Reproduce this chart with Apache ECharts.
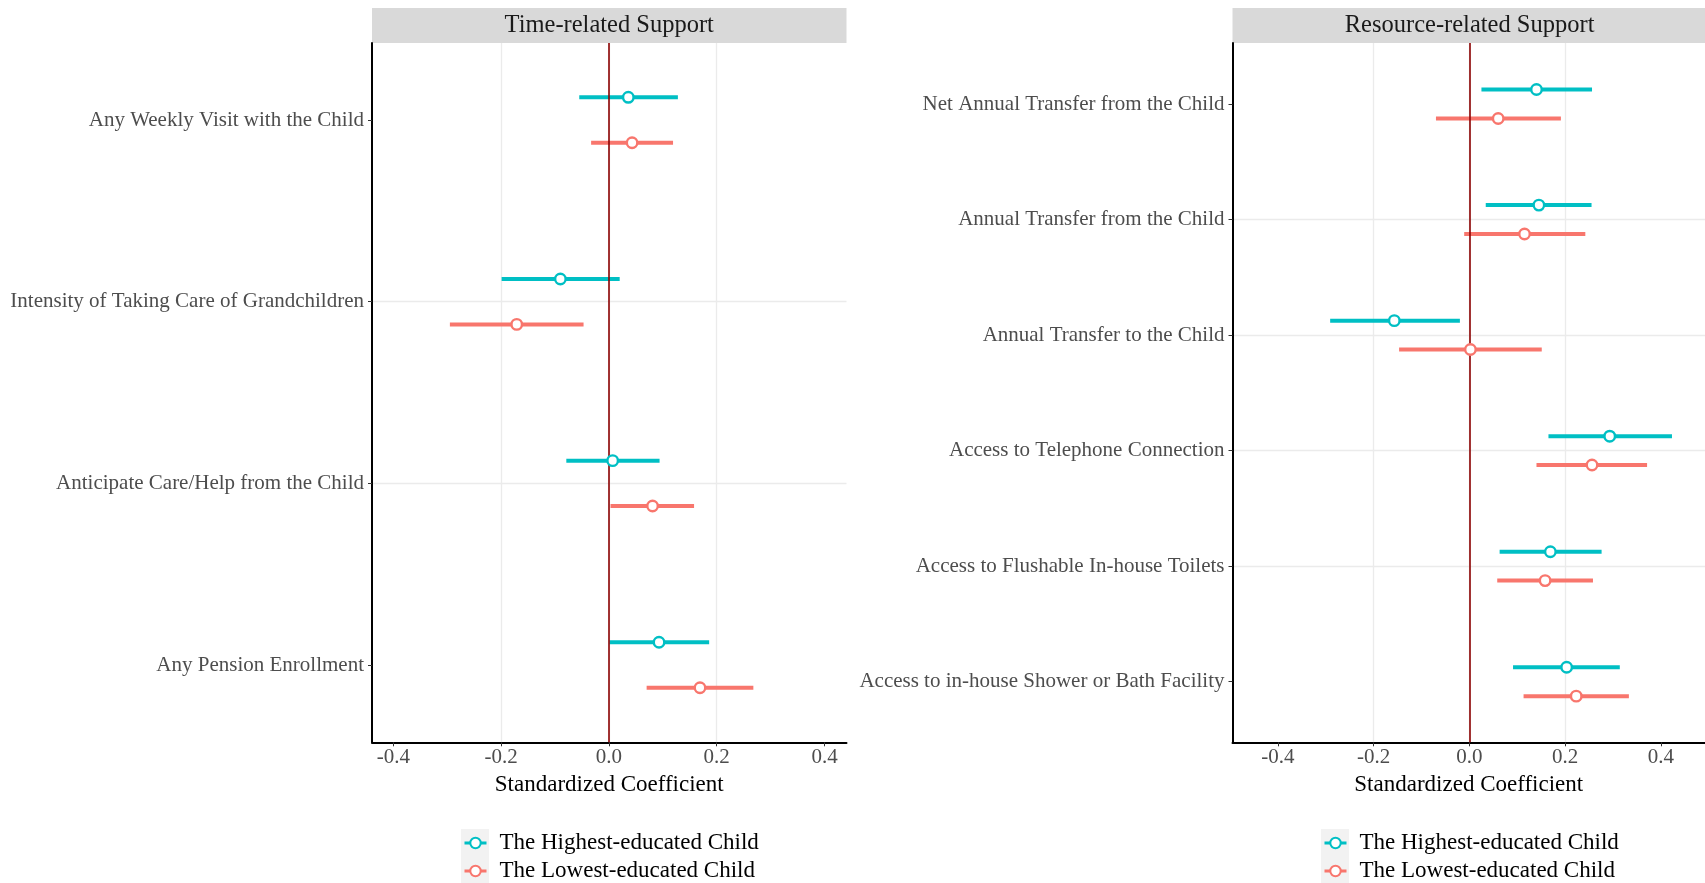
<!DOCTYPE html>
<html>
<head>
<meta charset="utf-8">
<script src="https://cdn.jsdelivr.net/npm/echarts@6/dist/echarts.min.js"></script>
<style>
html,body{margin:0;padding:0;background:#fff;}
#chart{width:1705px;height:883px;}
</style>
</head>
<body>
<div id="chart"></div>
<script>
// ---------- data ----------
var seriesNames = ['The Highest-educated Child', 'The Lowest-educated Child'];
var panelTitles = ['Time-related Support', 'Resource-related Support'];
var xTicks = [-0.4, -0.2, 0.0, 0.2, 0.4];

var timeCats = ['Any Weekly Visit with the Child', 'Intensity of Taking Care of Grandchildren', 'Anticipate Care/Help from the Child', 'Any Pension Enrollment'];
var timeHighEst = [0.036, -0.090, 0.007, 0.093];
var timeHighLo  = [-0.055, -0.199, -0.079, 0.001];
var timeHighHi  = [0.128, 0.020, 0.094, 0.186];
var timeLowEst  = [0.043, -0.171, 0.081, 0.169];
var timeLowLo   = [-0.033, -0.295, 0.003, 0.070];
var timeLowHi   = [0.119, -0.047, 0.158, 0.268];

var resCats = ['Net Annual Transfer from the Child', 'Annual Transfer from the Child', 'Annual Transfer to the Child', 'Access to Telephone Connection', 'Access to Flushable In-house Toilets', 'Access to in-house Shower or Bath Facility'];
var resHighEst = [0.140, 0.145, -0.157, 0.293, 0.169, 0.203];
var resHighLo  = [0.025, 0.034, -0.291, 0.165, 0.063, 0.091];
var resHighHi  = [0.256, 0.255, -0.020, 0.423, 0.276, 0.314];
var resLowEst  = [0.060, 0.115, 0.002, 0.256, 0.158, 0.223];
var resLowLo   = [-0.070, -0.011, -0.147, 0.140, 0.058, 0.113];
var resLowHi   = [0.191, 0.242, 0.151, 0.371, 0.258, 0.333];

// ---------- styling / layout ----------
var FONT = "'Liberation Serif','Times New Roman',serif";
var colors = ['#00BFC4', '#F8766D'];
var dodge = [-0.125, 0.125];

var panels = [
  {cats: timeCats, high: [timeHighEst, timeHighLo, timeHighHi], low: [timeLowEst, timeLowLo, timeLowHi],
   grid: {left: 372, top: 43, width: 474.5, height: 699.3}, xmin: -0.4395, xmax: 0.4408, ymin: -0.424, ymax: 3.4255,
   legendLeft: 463},
  {cats: resCats, high: [resHighEst, resHighLo, resHighHi], low: [resLowEst, resLowLo, resLowHi],
   grid: {left: 1232.5, top: 43, right: 0, height: 699.3}, xmin: -0.495, xmax: 0.492, ymin: -0.528, ymax: 5.5245,
   legendLeft: 1323}
];

var chart = echarts.init(document.getElementById('chart'), null, {renderer: 'canvas'});

var grids = [], xAxes = [], yAxes = [], series = [], legends = [], graphics = [];

panels.forEach(function (p, pi) {
  grids.push(Object.assign({containLabel: false}, p.grid));
  var cats = p.cats;
  var catIdx = cats.map(function (c, i) { return i; });
  xAxes.push({
    type: 'value', gridIndex: pi, min: p.xmin, max: p.xmax, splitNumber: 5,
    name: 'Standardized Coefficient', nameLocation: 'middle', nameGap: 24,
    nameTextStyle: {fontFamily: FONT, fontSize: 23, color: '#000'},
    axisLine: {show: true, onZero: false, lineStyle: {color: '#000', width: 2}},
    axisTick: {show: true, length: 4, customValues: xTicks, lineStyle: {color: '#333', width: 1}},
    axisLabel: {customValues: xTicks, margin: 5, fontFamily: FONT, fontSize: 21, color: '#4d4d4d',
      formatter: function (v) { return v.toFixed(1); }},
    splitLine: {show: true, showMinLine: false, showMaxLine: false, lineStyle: {color: '#ebebeb', width: 1.3}}
  });
  yAxes.push({
    type: 'value', gridIndex: pi, min: p.ymin, max: p.ymax, inverse: true, splitNumber: 5,
    axisLine: {show: true, onZero: false, lineStyle: {color: '#000', width: 2}},
    axisTick: {show: true, length: 4, customValues: catIdx, lineStyle: {color: '#333', width: 1}},
    axisLabel: {customValues: catIdx, margin: 8, fontFamily: FONT, fontSize: 21, color: '#4d4d4d',
      formatter: function (v) {
        var r = Math.round(v);
        return (Math.abs(v - r) < 1e-6 && cats[r] !== undefined) ? cats[r] : '';
      }},
    splitLine: {show: true, showMinLine: false, showMaxLine: false, lineStyle: {color: '#ebebeb', width: 1.3}}
  });

  [p.high, p.low].forEach(function (grp, gi) {
    var est = grp[0], lo = grp[1], hi = grp[2];
    var barData = cats.map(function (c, i) { return [lo[i], hi[i], i + dodge[gi]]; });
    var ptData = cats.map(function (c, i) { return [est[i], i + dodge[gi]]; });
    var s = {
      type: 'line', name: seriesNames[gi], xAxisIndex: pi, yAxisIndex: pi, z: 5,
      data: ptData, symbol: 'circle', symbolSize: 10.5, showSymbol: true, showAllSymbol: true,
      itemStyle: {color: '#ffffff', borderColor: colors[gi], borderWidth: 2.4},
      lineStyle: {color: colors[gi], width: 3, opacity: 0},
      silent: true
    };
    if (gi === 0) {
      s.markLine = {silent: true, symbol: ['none', 'none'], label: {show: false}, z: 4,
        lineStyle: {color: '#8B0000', width: 1.6, type: 'solid'},
        data: [{xAxis: 0}]};
    }
    series.push(s);
    series.push({
      type: 'custom', name: 'ci_' + pi + '_' + gi, xAxisIndex: pi, yAxisIndex: pi, z: 3,
      encode: {x: [0, 1], y: 2},
      data: barData,
      renderItem: function (params, api) {
        var a = api.coord([api.value(0), api.value(2)]);
        var b = api.coord([api.value(1), api.value(2)]);
        return {type: 'line', shape: {x1: a[0], y1: a[1], x2: b[0], y2: b[1]},
          style: {stroke: colors[gi], lineWidth: 4, lineCap: 'butt'}};
      },
      silent: true
    });
  });

  legends.push({
    orient: 'vertical', left: p.legendLeft, top: 831, padding: 0, itemWidth: 22, itemHeight: 13, itemGap: 4,
    data: seriesNames.map(function (n, i) {
      return {name: n, lineStyle: {color: colors[i], width: 3, opacity: 1}};
    }),
    selectedMode: false,
    textStyle: {fontFamily: FONT, fontSize: 23, color: '#000', lineHeight: 24, padding: [0, 0, 0, 8]}
  });

  // facet strip
  var g = p.grid;
  var stripW = (g.width !== undefined) ? g.width : (1705 - g.left + 2);
  graphics.push({type: 'rect', z: -1, shape: {x: g.left, y: 8, width: stripW, height: 35}, style: {fill: '#d9d9d9'}});
  var cx = (pi === 0) ? (g.left + g.width / 2) : 1469.6;
  graphics.push({type: 'text', z: 10, x: cx, y: 25.5, style: {text: panelTitles[pi], fontFamily: FONT, fontSize: 24.5, fill: '#1a1a1a', align: 'center', verticalAlign: 'middle'}});
  // legend key background
  graphics.push({type: 'rect', z: -1, shape: {x: p.legendLeft - 2, y: 829, width: 28, height: 56}, style: {fill: '#f2f2f2'}});
});

chart.setOption({
  animation: false,
  backgroundColor: '#ffffff',
  grid: grids,
  xAxis: xAxes,
  yAxis: yAxes,
  legend: legends,
  series: series,
  graphic: graphics
});
</script>
</body>
</html>
